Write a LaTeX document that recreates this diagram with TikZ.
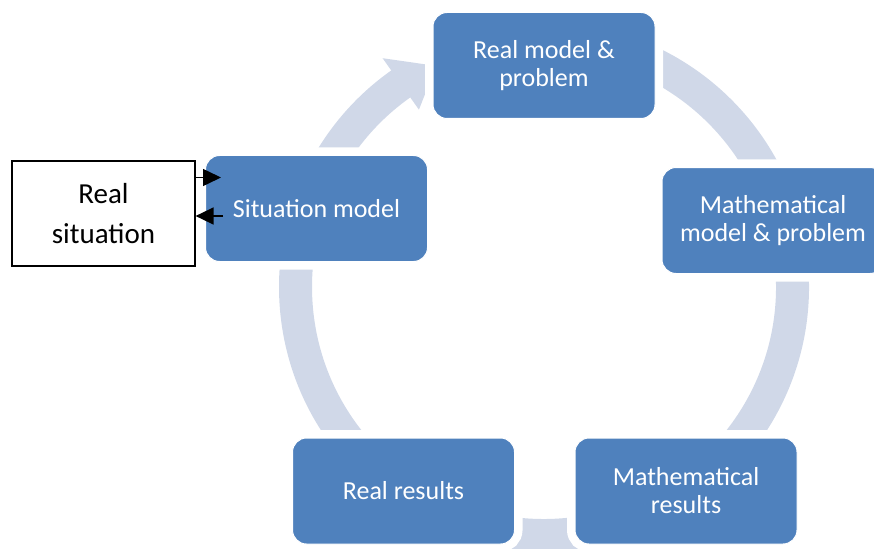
\documentclass[tikz,border=0pt]{standalone}
\usepackage{fontspec}
\setmainfont{Carlito}
\usetikzlibrary{arrows.meta}
\definecolor{boxblue}{HTML}{4F81BD}
\definecolor{ringgray}{HTML}{D0D8E8}
\begin{document}
\begin{tikzpicture}[x=1pt,y=1pt,
  stage/.style={rectangle, rounded corners=14pt, fill=boxblue, draw=white,
    line width=1pt, minimum width=222pt, minimum height=106pt,
    text=white, align=center, font=\fontsize{26}{28}\selectfont,
    preaction={draw=white, line width=16pt}},
  outerbox/.style={rectangle, draw=black, line width=1.2pt, fill=white,
    minimum width=183pt, minimum height=105pt, align=center,
    font=\fontsize{29}{40}\selectfont},
  smallarrow/.style={draw=black, line width=1.5pt,
    -{Triangle[length=18pt,width=17pt]}}]
\useasboundingbox (0,0) rectangle (874,-548);
\clip (0,0) rectangle (874,-548);

% cycle ring with its arrowhead
\coordinate (C) at (544,-287);
\draw[ringgray, line width=33pt] ([shift={(95:248.5)}]C)
  arc[start angle=95, end angle=-235, radius=248.5];
\fill[ringgray] ([shift={(125.2:280)}]C) -- ([shift={(116:246)}]C)
  -- ([shift={(125.2:217)}]C) -- cycle;

% stages of the cycle
\node[stage] (rm) at (544,-65.5) {Real model \&\\problem};
\node[stage] (mm) at (773,-220.5) {Mathematical\\model \& problem};
\node[stage] (mr) at (686,-491) {Mathematical\\results};
\node[stage] (rr) at (403.5,-491) {Real results};
\node[stage] (sm) at (316.5,-208.5) {Situation model};

% real situation and its two links
\node[outerbox] (rs) at (103.5,-213.5) {Real\\situation};
\coordinate (in1) at (221,-177.5);
\coordinate (out2) at (223,-216);
\draw[smallarrow] (rs.east |- in1) -- (in1);
\draw[smallarrow] (out2) -- (rs.east |- out2);
\end{tikzpicture}
\end{document}
